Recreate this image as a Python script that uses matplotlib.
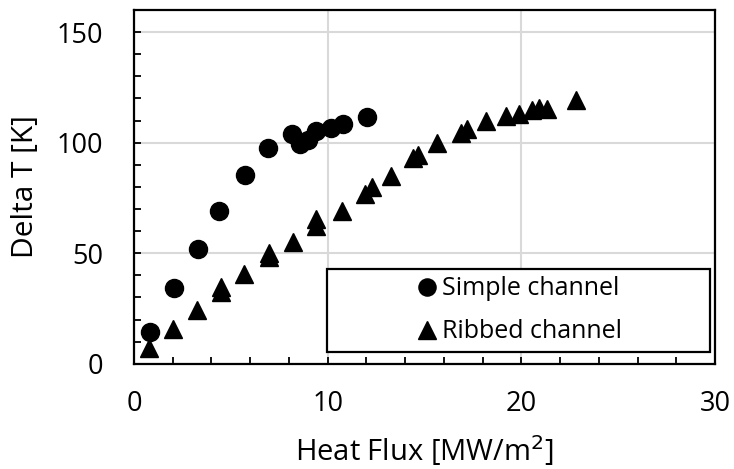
import matplotlib

matplotlib.use("Agg")
import matplotlib.pyplot as plt
from matplotlib.patches import Rectangle
from matplotlib.ticker import MultipleLocator

plt.rcParams["font.family"] = ["Open Sans", "DejaVu Sans"]

# Simple channel: heat flux [MW/m2] vs delta T [K]
simple_flux = [0.82, 2.08, 3.31, 4.40, 5.72, 6.92, 8.14, 8.56, 8.99, 9.42, 10.19, 10.80, 12.05]
simple_dt = [14.4, 34.2, 51.7, 69.2, 85.4, 97.5, 103.9, 99.2, 101.0, 105.4, 106.8, 108.3, 111.6]

# Ribbed channel
ribbed_flux = [0.77, 2.03, 3.23, 4.48, 4.48, 5.69, 6.97, 6.97, 8.21, 9.41, 9.41,
               10.74, 11.93, 12.29, 13.27, 14.42, 14.65, 15.65, 16.90, 17.20,
               18.18, 19.21, 19.86, 20.55, 20.93, 21.32, 22.82]
ribbed_dt = [6.9, 15.9, 24.5, 34.5, 32.5, 40.4, 50.3, 48.1, 55.0, 65.5, 62.5,
             69.0, 76.6, 80.1, 85.0, 93.0, 94.5, 99.7, 104.5, 106.0,
             109.8, 112.0, 113.1, 114.7, 115.5, 115.3, 119.1]

series_labels = ["Simple channel", "Ribbed channel"]

fig = plt.figure(figsize=(7.34, 4.69), dpi=100)
ax = fig.add_axes([0.1826, 0.2245, 0.7915, 0.754])

ax.grid(True, which="major", color="#d9d9d9", linewidth=1.5, zorder=0)
ax.set_axisbelow(True)

h1, = ax.plot(simple_flux, simple_dt, "o", color="black", markersize=13,
              linestyle="none", label=series_labels[0], zorder=3)
h2, = ax.plot(ribbed_flux, ribbed_dt, "^", color="black", markersize=13,
              linestyle="none", label=series_labels[1], zorder=3)

ax.set_xlim(0, 30)
ax.set_ylim(0, 160)
ax.set_xticks([0, 10, 20, 30])
ax.set_yticks([0, 50, 100, 150])
ax.xaxis.set_minor_locator(MultipleLocator(2))
ax.yaxis.set_minor_locator(MultipleLocator(10))
ax.grid(False, which="minor")

ax.tick_params(which="both", direction="in", length=5, width=1.3, color="black",
               labelsize=19.5, top=False, right=False)
ax.tick_params(axis="x", which="major", pad=19)
ax.tick_params(axis="y", which="major", pad=22)
for s in ax.spines.values():
    s.set_linewidth(1.6)
    s.set_color("black")

ax.set_xlabel("Heat Flux [MW/m$^{2}$]", fontsize=21, labelpad=11)
ax.set_ylabel("Delta T [K]", fontsize=21.5, labelpad=12)

# legend box
box = Rectangle((0.333, 0.034), 0.658, 0.233, transform=ax.transAxes,
                facecolor="white", edgecolor="black", linewidth=1.6, zorder=4)
ax.add_patch(box)
leg = ax.legend(handles=[h1, h2], loc="center", bbox_to_anchor=(0.662, 0.1505),
                bbox_transform=ax.transAxes, frameon=False, fontsize=18,
                handletextpad=0.15, handlelength=0.9, labelspacing=0.72,
                markerscale=0.95, borderpad=0)
leg.set_zorder(5)

fig.savefig("out.png", dpi=100)
